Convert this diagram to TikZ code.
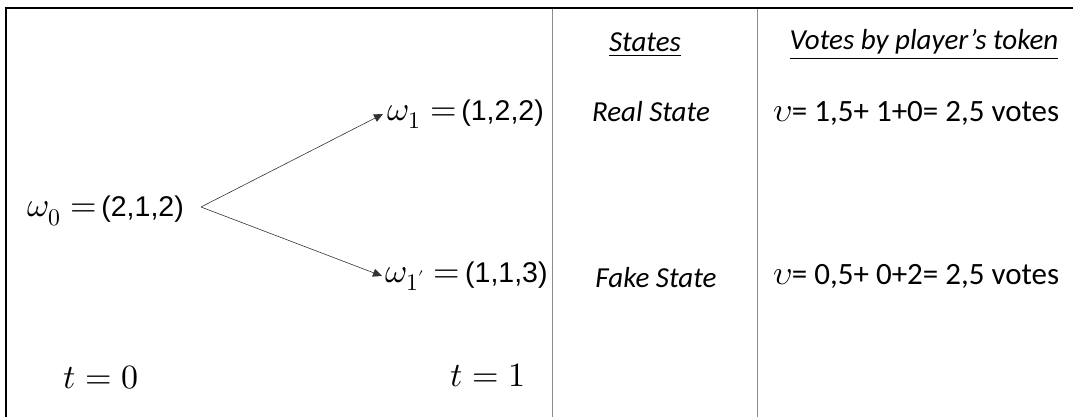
\documentclass[tikz,border=0pt]{standalone}
\usepackage{fontspec}
\usepackage{unicode-math}
\setmainfont{Carlito}
\setmathfont{Latin Modern Math}
\newfontfamily\arialf{Liberation Sans}
\newcommand\mbg[1]{{\fontsize{34}{38}\selectfont$#1$}}
\usetikzlibrary{arrows.meta}
\begin{document}
\begin{tikzpicture}[x=1pt,y=-1pt,
  mathlbl/.style={inner sep=1pt,font=\fontsize{28.5}{32}\selectfont},
  txtlbl/.style={inner sep=1pt,font=\fontsize{31}{35}\selectfont},
  hdr/.style={inner sep=1pt,font=\fontsize{29}{33}\selectfont\itshape},
  arr/.style={draw=black!80,line width=0.6pt,-{Triangle[length=9pt,width=8pt]}},
  divider/.style={draw=black!45,line width=0.9pt},
  frame/.style={draw=black,line width=1.6pt}]
\useasboundingbox (0,0) rectangle (1073,417);
% frame
\draw[frame] (6,417) -- (6,8) -- (1073,8);
\draw[divider] (552,9) -- (552,417);
\draw[divider] (757,9) -- (757,417);
% tree
\node[mathlbl,anchor=west] (w0) at (26,211) {\mbg{\omega_0 =}\,{\arialf(2,1,2)}};
\node[mathlbl,anchor=west] (w1) at (386,114) {\mbg{\omega_1 =}\,{\arialf(1,2,2)}};
\node[mathlbl,anchor=west] (w2) at (384,276) {\mbg{\omega_{1'} =}\,{\arialf(1,1,3)}};
\coordinate (apex) at (201,207);
\draw[arr] (apex) -- ([xshift=-3pt]w1.west);
\draw[arr] (apex) -- ([xshift=-2pt]w2.west);
\node[mathlbl] (t0) at (101,378) {\mbg{t=0}};
\node[mathlbl] (t1) at (488,375) {\mbg{t=1}};
% states column
\node[hdr] (sh) at (645,45) {\underline{States}};
\node[hdr] (rs) at (651,112) {Real State};
\node[hdr] (fs) at (656,278) {Fake State};
% votes column
\node[hdr] (vh) at (924,45) {\underline{Votes by player’s token}};
\node[txtlbl,anchor=west] (v1) at (772,113) {\mbg{\upsilon}= 1,5+ 1+0= 2,5 votes};
\node[txtlbl,anchor=west] (v2) at (772,276) {\mbg{\upsilon}= 0,5+ 0+2= 2,5 votes};
\end{tikzpicture}
\end{document}
